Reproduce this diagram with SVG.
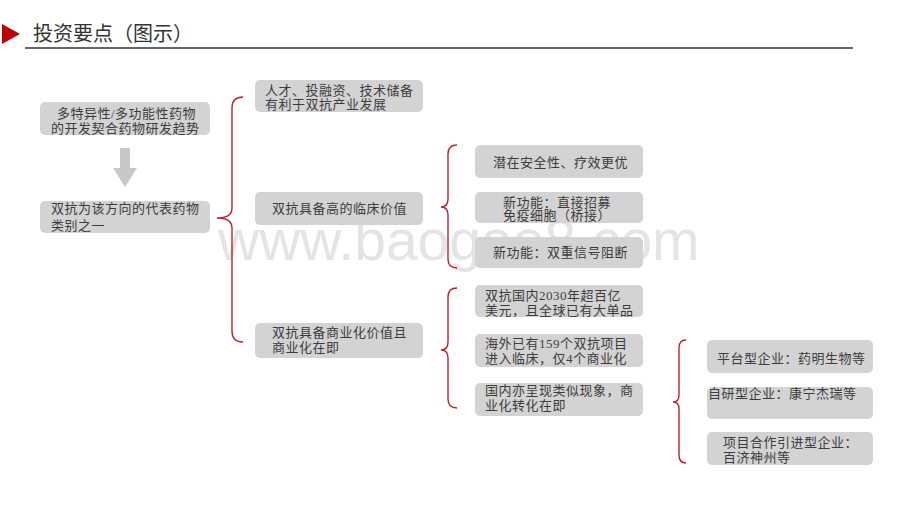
<svg xmlns="http://www.w3.org/2000/svg" width="920" height="518" viewBox="0 0 920 518">
<style>
.box{fill:#d3d3d3;}
.t{font-family:"Liberation Serif","Noto Sans CJK SC",serif;font-size:13px;letter-spacing:0.5px;fill:#3c3c3c;}
.brace{fill:none;stroke:#c0202a;stroke-width:1.4;}
.wm{font-family:"Liberation Sans",Arial,sans-serif;font-size:57px;fill:#e4e4e4;}
</style>
<rect width="920" height="518" fill="#ffffff"/>
<text class="wm" x="218" y="260">www.baogao8.com</text>
<g id="title">
<polygon points="2,24 20,34 2,44" fill="#c00000"/>
<text x="33" y="41" font-family="Liberation Serif,'Noto Sans CJK SC',serif" font-size="20" fill="#333">投资要点（图示）</text>
<line x1="25" y1="48" x2="853" y2="48" stroke="#333" stroke-width="1.5"/>
</g>
<g id="connectors">
<path class="brace" d="M243,97 Q232,97 232,108 L232,208 Q232,218 217,218 Q232,218 232,228 L232,331 Q232,342 243,342"/>
<path class="brace" d="M457,145 Q448,145 448,154 L448,199 Q448,207 441,207 Q448,207 448,215 L448,259 Q448,268 457,268"/>
<path class="brace" d="M457,288 Q448,288 448,297 L448,342 Q448,350 441,350 Q448,350 448,358 L448,399 Q448,408 457,408"/>
<path class="brace" d="M686,340 Q679,340 679,348 L679,395 Q679,402 673,402 Q679,402 679,409 L679,455 Q679,463 686,463"/>
<polygon points="120,148 130,148 130,168 137,168 125,187 113,168 120,168" fill="#c8c8c8"/>
</g>
<g id="n1"><rect class="box" x="40" y="102" width="170" height="33" rx="5"/>
<text class="t" x="57" y="118">多特异性/多功能性药物</text><text class="t" x="51" y="133">的开发契合药物研发趋势</text></g>
<g id="n2"><rect class="box" x="40" y="201" width="170" height="32" rx="5"/>
<text class="t" x="51" y="213">双抗为该方向的代表药物</text><text class="t" x="51" y="230">类别之一</text></g>
<g id="a1"><rect class="box" x="255" y="80" width="168" height="32" rx="5"/>
<text class="t" x="265" y="95">人才、投融资、技术储备</text><text class="t" x="265" y="109">有利于双抗产业发展</text></g>
<g id="a2"><rect class="box" x="255" y="192" width="168" height="33" rx="5"/>
<text class="t" x="272" y="213">双抗具备高的临床价值</text></g>
<g id="a3"><rect class="box" x="255" y="323" width="168" height="35" rx="5"/>
<text class="t" x="272" y="337">双抗具备商业化价值且</text><text class="t" x="272" y="352">商业化在即</text></g>
<g id="b1"><rect class="box" x="475" y="145" width="168" height="33" rx="5"/>
<text class="t" x="493" y="167">潜在安全性、疗效更优</text></g>
<g id="b2"><rect class="box" x="475" y="192" width="168" height="31" rx="5"/>
<text class="t" x="503" y="207">新功能：直接招募</text><text class="t" x="503" y="220">免疫细胞（桥接）</text></g>
<g id="b3"><rect class="box" x="475" y="237" width="168" height="31" rx="5"/>
<text class="t" x="493" y="257">新功能：双重信号阻断</text></g>
<g id="c1"><rect class="box" x="475" y="285" width="168" height="32" rx="5"/>
<text class="t" x="485" y="300">双抗国内2030年超百亿</text><text class="t" x="485" y="315">美元，且全球已有大单品</text></g>
<g id="c2"><rect class="box" x="475" y="334" width="168" height="33" rx="5"/>
<text class="t" x="485" y="348">海外已有159个双抗项目</text><text class="t" x="485" y="363">进入临床，仅4个商业化</text></g>
<g id="c3"><rect class="box" x="475" y="383" width="168" height="33" rx="5"/>
<text class="t" x="485" y="395">国内亦呈现类似现象，商</text><text class="t" x="485" y="410">业化转化在即</text></g>
<g id="d1"><rect class="box" x="707" y="340" width="166" height="33" rx="5"/>
<text class="t" x="717" y="363">平台型企业：药明生物等</text></g>
<g id="d2"><rect class="box" x="707" y="387" width="166" height="32" rx="5"/>
<text class="t" x="708" y="398">自研型企业：康宁杰瑞等</text></g>
<g id="d3"><rect class="box" x="707" y="432" width="166" height="33" rx="5"/>
<text class="t" x="723" y="447">项目合作引进型企业：</text><text class="t" x="723" y="462">百济神州等</text></g>
</svg>
